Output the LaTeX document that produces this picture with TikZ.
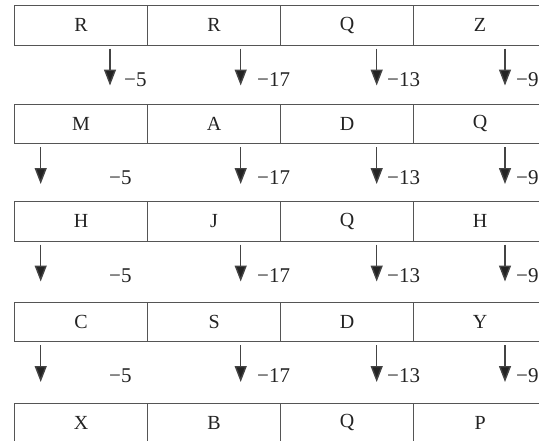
\documentclass[tikz,border=0pt]{standalone}
\usepackage{fontspec}
\setmainfont{Liberation Serif}
\usetikzlibrary{arrows.meta}
\definecolor{gridgray}{RGB}{85,85,85}
\definecolor{inkdark}{RGB}{35,35,35}
\tikzset{
  cell/.style={draw=gridgray,line width=1.2pt,minimum width=133pt,minimum height=39.5pt,
    inner sep=0pt,anchor=north west,text=inkdark,font=\fontsize{20}{23}\selectfont},
  drop/.style={draw=inkdark!85!white,line width=1.4pt,-{Triangle[width=12pt,length=16pt,fill=inkdark]}},
  amount/.style={anchor=west,inner sep=0pt,text=inkdark,font=\fontsize{21}{24}\selectfont}
}

\begin{document}
\begin{tikzpicture}[x=1pt,y=-1pt]
  \useasboundingbox (0,0) rectangle (539,440);
  \clip (0,0) rectangle (539,440);
  % rows of letters
  \foreach \r/\ytop/\letters in {1/5/{R,R,Q,Z},2/103.5/{M,A,D,Q},3/201/{H,J,Q,H},
                                 4/301.5/{C,S,D,Y},5/402.5/{X,B,Q,P}}{
    \foreach \l [count=\c] in \letters {
      \node[cell] (r\r c\c) at ({14+133*(\c-1)},\ytop) {\l};
    }
  }
  % shifts between rows
  \foreach \g/\yb/\xa/\xl in {1/44.5/110/124,2/143/40.7/109,3/240.5/40.7/109,4/341/40.7/109}{
    \foreach \c/\x/\lx/\v in {1/\xa/\xl/−5,2/240.7/257/−17,3/376.7/387/−13,4/505/516/−9}{
      \coordinate (s\g\c) at (\x,\yb+4);
      \coordinate (t\g\c) at (\x,\yb+41);
      \draw[drop] (s\g\c) -- (t\g\c);
      \node[amount] (v\g\c) at (\lx,\yb+35) {\v};
    }
  }
\end{tikzpicture}
\end{document}
